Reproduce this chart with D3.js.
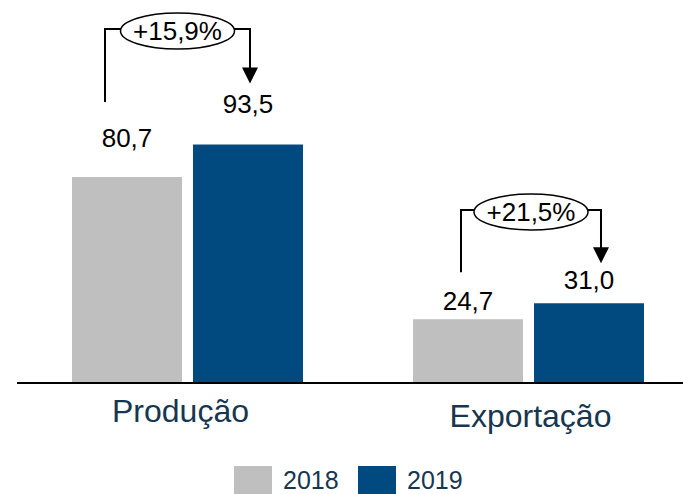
<!DOCTYPE html>
<html>
<head>
<meta charset="utf-8">
<script src="https://cdn.jsdelivr.net/npm/d3@7"></script>
<style>
  body { margin: 0; background: #fff; }
  text { font-family: "Liberation Sans", Arial, sans-serif; }
</style>
</head>
<body>
<div id="chart"></div>
<script>
// chart data
var categories = ["Produção", "Exportação"];
var years = ["2018", "2019"];
var values2018 = [80.7, 24.7];
var values2019 = [93.5, 31.0];
var growthLabels = ["+15,9%", "+21,5%"];

var colors = { "2018": "#bfbfbf", "2019": "#004a7f" };

var svgWidth = 683;
var svgHeight = 494;
var baseY = 382;

var svg = d3.select("#chart").append("svg")
    .attr("width", svgWidth)
    .attr("height", svgHeight);

// rows for the bars
var rows = categories.map(function(c, i) {
    return { cat: c, values: [
        { year: "2018", value: values2018[i] },
        { year: "2019", value: values2019[i] }
    ]};
});

var x0 = d3.scalePoint().domain(categories).range([187.5, 528.5]);
var x1 = d3.scaleBand().domain(years).range([-115.5, 115.5]).paddingInner(0.0909);
var y = d3.scaleLinear().domain([0, 100]).range([baseY, baseY - 254]);

var fmt = function(v) { return d3.format(".1f")(v).replace(".", ","); };
var mid = function(yr) { return x1(yr) + x1.bandwidth() / 2; };

var groups = svg.selectAll(".grp")
    .data(rows)
    .enter()
    .append("g")
    .attr("class", "grp")
    .attr("transform", d => `translate(${x0(d.cat)},0)`);

groups.selectAll("rect")
    .data(d => d.values)
    .enter()
    .append("rect")
    .attr("x", d => x1(d.year))
    .attr("y", d => y(d.value))
    .attr("width", x1.bandwidth())
    .attr("height", d => baseY - y(d.value))
    .attr("fill", d => colors[d.year]);

// value labels (placed a bit differently per group, like the original)
var labelGap = [[30, 32], [9, 14]];
groups.each(function(d, gi) {
    d3.select(this).selectAll(".val")
        .data(d.values)
        .enter()
        .append("text")
        .attr("class", "val")
        .attr("x", v => mid(v.year))
        .attr("y", (v, i) => y(v.value) - labelGap[gi][i])
        .attr("text-anchor", "middle")
        .attr("font-size", "26px")
        .attr("fill", "#000")
        .text(v => fmt(v.value));
});

// growth brackets: [left x offset, right x offset, lift left, lift right, top y]
var bracket = [[-22, 2, 75, 61, 29], [-7, 12, 47, 40, 210]];
groups.each(function(d, gi) {
    var g = d3.select(this);
    var b = bracket[gi];
    var xa = mid("2018") + b[0];
    var xb = mid("2019") + b[1];
    var ya = y(d.values[0].value) - b[2];
    var yb = y(d.values[1].value) - b[3];
    var topY = b[4];
    var cx = (xa + xb) / 2;

    g.append("path")
        .attr("d", `M${xa},${ya} V${topY} H${xb} V${yb - 14}`)
        .attr("fill", "none")
        .attr("stroke", "#000")
        .attr("stroke-width", 2);
    g.append("path")
        .attr("d", `M${xb - 8},${yb - 16} L${xb + 8},${yb - 16} L${xb},${yb} Z`)
        .attr("fill", "#000");
    g.append("ellipse")
        .attr("cx", cx)
        .attr("cy", topY + 2)
        .attr("rx", 57)
        .attr("ry", 18)
        .attr("fill", "#fff")
        .attr("stroke", "#000")
        .attr("stroke-width", 1.5);
    g.append("text")
        .attr("x", cx)
        .attr("y", topY + 11)
        .attr("text-anchor", "middle")
        .attr("font-size", "26px")
        .text(growthLabels[gi]);
});

// baseline
svg.append("line")
    .attr("x1", 17).attr("x2", svgWidth)
    .attr("y1", baseY + 1).attr("y2", baseY + 1)
    .attr("stroke", "#000")
    .attr("stroke-width", 2);

// category labels
var catShift = [[-7, 40], [2, 45]];
svg.selectAll(".cat")
    .data(categories)
    .enter()
    .append("text")
    .attr("class", "cat")
    .attr("x", (d, i) => x0(d) + catShift[i][0])
    .attr("y", (d, i) => baseY + catShift[i][1])
    .attr("text-anchor", "middle")
    .attr("font-size", "32px")
    .attr("fill", "#17364f")
    .text(d => d);

// legend
var legend = svg.append("g").attr("transform", "translate(234,466)");
var leg = legend.selectAll("g")
    .data(years)
    .enter()
    .append("g")
    .attr("transform", (d, i) => `translate(${i * 124},0)`);
leg.append("rect")
    .attr("width", 38)
    .attr("height", 30)
    .attr("fill", d => colors[d]);
leg.append("text")
    .attr("x", 49)
    .attr("y", 23)
    .attr("font-size", "25px")
    .attr("fill", "#17364f")
    .text(d => d);
</script>
</body>
</html>
